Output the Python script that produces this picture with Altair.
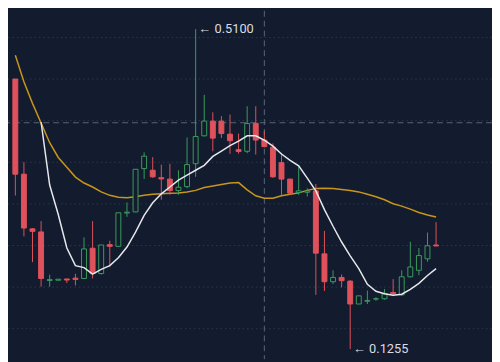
import altair as alt
import pandas as pd

# ---- data ----
opens = [0.450, 0.3357, 0.270, 0.2663, 0.2080, 0.2083, 0.2098, 0.2108, 0.2104, 0.2467,
         0.2163, 0.2510, 0.2490, 0.2890, 0.2904, 0.3424, 0.3404, 0.3315, 0.3298, 0.3160,
         0.3207, 0.3483, 0.3818, 0.3995, 0.3995, 0.3838, 0.3652, 0.3632, 0.3968, 0.3767,
         0.3680, 0.3495, 0.3298, 0.3136, 0.3140, 0.3156, 0.2400, 0.2065, 0.2116, 0.2072,
         0.1797, 0.1830, 0.1857, 0.1860, 0.1935, 0.1907, 0.2124, 0.2202, 0.2340, 0.2506]
closes = [0.3357, 0.2710, 0.2670, 0.2104, 0.2090, 0.2095, 0.2085, 0.2092, 0.2459, 0.2163,
          0.2506, 0.2490, 0.2893, 0.2900, 0.3416, 0.3573, 0.3325, 0.3300, 0.3160, 0.3200,
          0.3472, 0.3810, 0.3995, 0.3790, 0.3845, 0.3759, 0.3629, 0.3966, 0.3767, 0.3688,
          0.3325, 0.3298, 0.3129, 0.3156, 0.3155, 0.2408, 0.2065, 0.2116, 0.2077, 0.1797,
          0.1895, 0.1840, 0.1860, 0.1918, 0.1921, 0.2124, 0.2242, 0.2379, 0.2497, 0.2494]
highs = [0.450, 0.350, 0.271, 0.2793, 0.215, 0.2097, 0.2098, 0.216, 0.2597, 0.2793,
         0.2506, 0.2557, 0.2893, 0.3018, 0.3416, 0.362, 0.3562, 0.3472, 0.3483, 0.3404,
         0.3798, 0.510, 0.431, 0.410, 0.4054, 0.4074, 0.3845, 0.4173, 0.4173, 0.3877,
         0.3727, 0.3609, 0.330, 0.3455, 0.3188, 0.3239, 0.2675, 0.2202, 0.2151, 0.2084,
         0.1895, 0.1959, 0.1879, 0.1977, 0.2096, 0.2202, 0.2545, 0.247, 0.2656, 0.2781]
lows = [0.310, 0.261, 0.230, 0.2006, 0.2006, 0.2081, 0.205, 0.202, 0.2096, 0.2104,
        0.215, 0.2243, 0.248, 0.2845, 0.290, 0.330, 0.3313, 0.305, 0.3109, 0.311,
        0.3188, 0.3325, 0.381, 0.3632, 0.3791, 0.3602, 0.3602, 0.3609, 0.3593, 0.368,
        0.3313, 0.3109, 0.311, 0.3109, 0.3089, 0.1907, 0.1954, 0.2037, 0.1998, 0.1255,
        0.1797, 0.1797, 0.1836, 0.1848, 0.1895, 0.1895, 0.2116, 0.2143, 0.2305, 0.2494]

# short moving average (white), starts at candle 3
ma_short_start = 3
ma_short = [0.3983, 0.3227, 0.2872, 0.2470, 0.2258, 0.2234, 0.2157, 0.2214, 0.2258, 0.2352,
            0.2482, 0.2660, 0.2861, 0.3014, 0.3121, 0.3203, 0.3286, 0.3345, 0.3404, 0.3463,
            0.3570, 0.3635, 0.3700, 0.3753, 0.3818, 0.3818, 0.3765, 0.3694, 0.3599, 0.3522,
            0.3457, 0.3310, 0.3156, 0.2931, 0.2731, 0.2542, 0.2376, 0.2222, 0.2033, 0.1950,
            0.1921, 0.1903, 0.1915, 0.1974, 0.2045, 0.2140, 0.2222]
# long moving average (orange)
ma_long = [0.4787, 0.4468, 0.4208, 0.3972, 0.3735, 0.3558, 0.3440, 0.3322, 0.3251, 0.3203,
           0.3144, 0.3103, 0.3079, 0.3073, 0.3085, 0.3103, 0.3115, 0.3121, 0.3127, 0.3132,
           0.3144, 0.3162, 0.3197, 0.3215, 0.3233, 0.3251, 0.3256, 0.3168, 0.3097, 0.3067,
           0.3067, 0.3097, 0.3115, 0.3132, 0.3162, 0.3186, 0.3188, 0.3186, 0.3174, 0.3162,
           0.3144, 0.3115, 0.3085, 0.3050, 0.3002, 0.2973, 0.2937, 0.2896, 0.2866, 0.2843]

grid_values = [0.15, 0.20, 0.25, 0.30, 0.35, 0.40, 0.45, 0.50]
cross_index = 29
cross_price = 0.3975
max_label = "\u2190 0.5100"
max_index = 21
max_price = 0.5100
min_label = "\u2190 0.1255"
min_index = 39
min_price = 0.1255

BG = "#131b2e"
RED = "#e0525b"
GREEN = "#3b9c5c"
ORANGE = "#c8961a"
WHITE = "#e6e8ec"

n = len(opens)
df = pd.DataFrame({
    "i": list(range(n)),
    "open": opens, "close": closes, "high": highs, "low": lows,
})
df["dir"] = ["up" if c >= o else "down" for o, c in zip(opens, closes)]

short_df = pd.DataFrame({"i": list(range(ma_short_start, ma_short_start + len(ma_short))),
                         "v": ma_short})
long_df = pd.DataFrame({"i": list(range(len(ma_long))), "v": ma_long})

xs = alt.Scale(domain=[-0.2806, 54.94], nice=False, zero=False)
ys = alt.Scale(domain=[0.11348, 0.53191], nice=False, zero=False)

X = alt.X("i:Q", scale=xs, axis=None)


def Ynoax(f):
    return alt.Y(f, scale=ys, axis=None)


grid_df = pd.DataFrame({"g": grid_values})
grid = alt.Chart(grid_df).mark_rule(color="#2e384c", strokeWidth=1, strokeDash=[1.5, 3]).encode(
    y=Ynoax("g:Q")
)

cross_v = alt.Chart(pd.DataFrame({"i": [cross_index]})).mark_rule(
    color="#5c6678", strokeWidth=1, strokeDash=[6, 4]).encode(x=X)
cross_h = alt.Chart(pd.DataFrame({"p": [cross_price]})).mark_rule(
    color="#5c6678", strokeWidth=1, strokeDash=[6, 4]).encode(y=Ynoax("p:Q"))

col_scale = alt.Scale(domain=["up", "down"], range=[GREEN, RED])
fill_scale = alt.Scale(domain=["up", "down"], range=[BG, RED])

wicks = alt.Chart(df).mark_rule(strokeWidth=1).encode(
    x=X, y=Ynoax("low:Q"), y2="high:Q",
    color=alt.Color("dir:N", scale=col_scale, legend=None),
)
bodies = alt.Chart(df).mark_bar(size=5, strokeWidth=1).encode(
    x=X, y=Ynoax("open:Q"), y2="close:Q",
    fill=alt.Fill("dir:N", scale=fill_scale, legend=None),
    stroke=alt.Stroke("dir:N", scale=col_scale, legend=None),
)

line_long = alt.Chart(long_df).mark_line(color=ORANGE, strokeWidth=1.5).encode(
    x=X, y=Ynoax("v:Q"))
line_short = alt.Chart(short_df).mark_line(color=WHITE, strokeWidth=1.5).encode(
    x=X, y=Ynoax("v:Q"))

labels_df = pd.DataFrame({"i": [max_index, min_index], "p": [max_price, min_price],
                          "t": [max_label, min_label]})
labels = alt.Chart(labels_df).mark_text(
    align="left", baseline="middle", dx=3, fontSize=13, font="Roboto", color="#d9dde3"
).encode(x=X, y=Ynoax("p:Q"), text="t:N")

chart = alt.layer(
    grid, cross_v, cross_h, line_long, wicks, bodies, line_short, labels
).properties(
    width=492, height=354, background=BG, padding=0,
    autosize=alt.AutoSizeParams(type="none"),
).configure_view(stroke=None)

chart.save("out.html", embed_options={"renderer": "svg", "actions": False})
